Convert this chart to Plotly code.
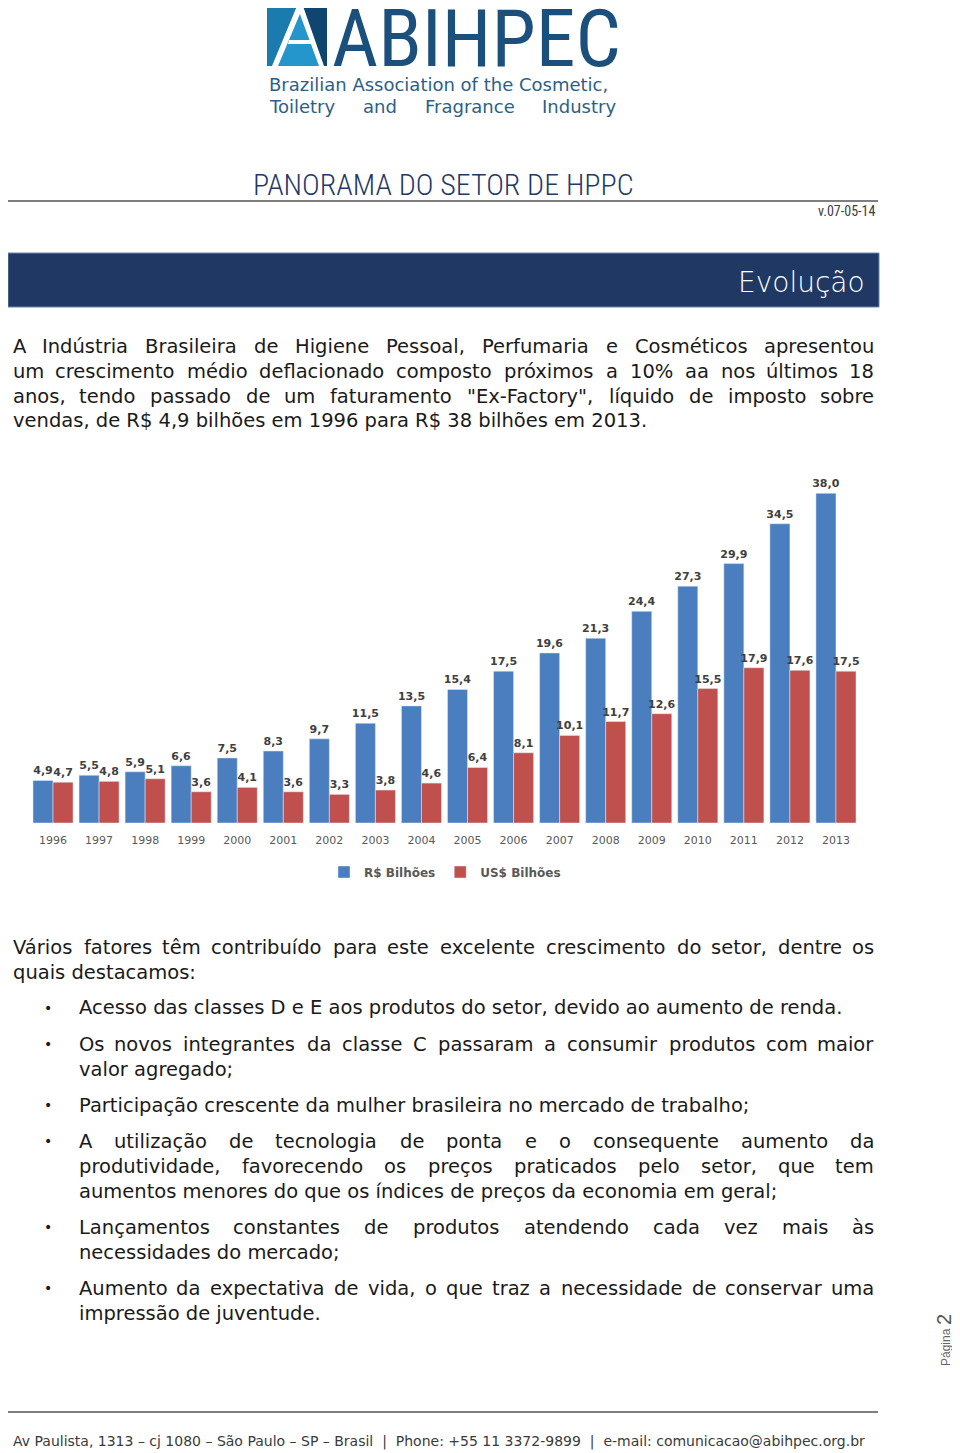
import unicodedata
import plotly.graph_objects as go

# page geometry: the html body has an 8px margin, so the figure is offset by 8px
OFF = 8
W, H = 960 - OFF, 1453 - OFF

years = ["1996", "1997", "1998", "1999", "2000", "2001", "2002", "2003", "2004",
         "2005", "2006", "2007", "2008", "2009", "2010", "2011", "2012", "2013"]
brl_bilhoes = [4.9, 5.5, 5.9, 6.6, 7.5, 8.3, 9.7, 11.5, 13.5,
               15.4, 17.5, 19.6, 21.3, 24.4, 27.3, 29.9, 34.5, 38.0]
usd_bilhoes = [4.7, 4.8, 5.1, 3.6, 4.1, 3.6, 3.3, 3.8, 4.6,
               6.4, 8.1, 10.1, 11.7, 12.6, 15.5, 17.9, 17.6, 17.5]
series_names = ["R$ Bilhões", "US$ Bilhões"]

intro_lines = [
    "A Indústria Brasileira de Higiene Pessoal, Perfumaria e Cosméticos apresentou",
    "um crescimento médio deflacionado composto próximos a 10% aa nos últimos 18",
    "anos, tendo passado de um faturamento \"Ex-Factory\", líquido de imposto sobre",
    "vendas, de R$ 4,9 bilhões em 1996 para R$ 38 bilhões em 2013.",
]
factors_lines = [
    "Vários fatores têm contribuído para este excelente crescimento do setor, dentre os",
    "quais destacamos:",
]
bullets = [
    ["Acesso das classes D e E aos produtos do setor, devido ao aumento de renda."],
    ["Os novos integrantes da classe C passaram a consumir produtos com maior",
     "valor agregado;"],
    ["Participação crescente da mulher brasileira no mercado de trabalho;"],
    ["A utilização de tecnologia de ponta e o consequente aumento da",
     "produtividade, favorecendo os preços praticados pelo setor, que tem",
     "aumentos menores do que os índices de preços da economia em geral;"],
    ["Lançamentos constantes de produtos atendendo cada vez mais às",
     "necessidades do mercado;"],
    ["Aumento da expectativa de vida, o que traz a necessidade de conservar uma",
     "impressão de juventude."],
]
logo_name = "ABIHPEC"
logo_sub = ["Brazilian Association of the Cosmetic,", "Toiletry and Fragrance Industry"]
doc_title = "PANORAMA DO SETOR DE HPPC"
doc_version = "v.07-05-14"
section_title = "Evolução"
page_label = "Página"
page_number = "2"
footer_text = ("Av Paulista, 1313 – cj 1080 – São Paulo – SP – Brasil  |  "
               "Phone: +55 11 3372-9899  |  e-mail: comunicacao@abihpec.org.br")

BLUE = "#4A7EBF"
RED = "#C0504D"
BODY_FONT = "DejaVu Sans"
BODY_SIZE = 19.5
TEXT_COLOR = "#1a1a1a"

# DejaVu Sans advance widths (units per em = 2048), used to justify lines
_DV = {" ": 651, "!": 821, "\"": 942, "$": 1303, "%": 1946, "'": 563, "(": 799,
       ")": 799, ",": 651, "-": 739, ".": 651, "/": 690, ":": 690, ";": 690,
       "@": 2048, "|": 690, "–": 1024,
       "A": 1401, "B": 1405, "C": 1430, "D": 1577, "E": 1294, "F": 1178,
       "G": 1587, "H": 1540, "I": 604, "J": 604, "K": 1343, "L": 1141,
       "M": 1767, "N": 1532, "O": 1612, "P": 1235, "Q": 1612, "R": 1423,
       "S": 1300, "T": 1251, "U": 1499, "V": 1401, "W": 2025, "X": 1403,
       "Y": 1251, "Z": 1403,
       "a": 1255, "b": 1300, "c": 1126, "d": 1300, "e": 1260, "f": 721,
       "g": 1300, "h": 1298, "i": 569, "j": 569, "k": 1186, "l": 569,
       "m": 1995, "n": 1298, "o": 1253, "p": 1300, "q": 1300, "r": 842,
       "s": 1067, "t": 803, "u": 1298, "v": 1212, "w": 1675, "x": 1212,
       "y": 1212, "z": 1075}
for _d in "0123456789":
    _DV[_d] = 1303


def text_width(s, size):
    total = 0
    for ch in s:
        base = unicodedata.normalize("NFD", ch)[0]
        total += _DV.get(ch, _DV.get(base, 1250))
    return total / 2048 * size


def X(x):
    return (x - OFF) / W


def Y(y):
    return 1 - (y - OFF) / H


fig = go.Figure()
for vals, name, color in ((brl_bilhoes, series_names[0], BLUE),
                          (usd_bilhoes, series_names[1], RED)):
    fig.add_trace(go.Bar(
        x=years, y=vals, name=name, marker_color=color,
        texttemplate="%{y:.1f}", textposition="outside", constraintext="none",
        textfont=dict(family="DejaVu Sans", size=11, color="#404040", weight="bold"),
        cliponaxis=False,
    ))

ann = []


def text(x, y, s, size, color=TEXT_COLOR, family=BODY_FONT, xanchor="left",
         weight="normal", angle=0, yanchor="middle"):
    ann.append(dict(x=X(x), y=Y(y), xref="paper", yref="paper", text=s,
                    showarrow=False, xanchor=xanchor, yanchor=yanchor,
                    textangle=angle, borderpad=0,
                    font=dict(family=family, size=size, color=color, weight=weight)))


def justified(line, x0, x1, y, size, color=TEXT_COLOR, family=BODY_FONT):
    words = line.split(" ")
    widths = [text_width(w, size) for w in words]
    gap = (x1 - x0 - sum(widths)) / (len(words) - 1)
    pos = x0
    for i, (w, wd) in enumerate(zip(words, widths)):
        if i == 0:
            text(x0, y, w, size, color, family, "left")
        elif i == len(words) - 1:
            text(x1, y, w, size, color, family, "right")
        else:
            text(pos + wd / 2, y, w, size, color, family, "center")
        pos += wd + gap


def paragraph(lines, x0, x1, y0, step=25):
    for i, line in enumerate(lines):
        y = y0 + step * i
        if i < len(lines) - 1:
            justified(line, x0, x1, y, BODY_SIZE)
        else:
            text(x0, y, line, BODY_SIZE)


# logo
text(331, 39, logo_name, 80, color="#1B4F7C",
     family="Roboto Condensed, Liberation Sans")
text(268, 84, logo_sub[0], 18, color="#2C5F88")
justified(logo_sub[1], 268, 617, 106, 18, color="#2C5F88")

# title
text(443, 185, doc_title, 30, color="#1F3A68",
     family="Roboto Condensed, Liberation Sans", xanchor="center", weight=300)
text(876, 211, doc_version, 14, color="#404040",
     family="Roboto Condensed, Liberation Sans", xanchor="right")

# banner title
text(866, 282, section_title, 28, color="#FFFFFF", family="DejaVu Sans",
     xanchor="right", weight=300)

# body text
paragraph(intro_lines, 12, 875, 346)
paragraph(factors_lines, 12, 875, 947)
bullet_y = [1008, 1044, 1105, 1141, 1227, 1288]
for by, lines in zip(bullet_y, bullets):
    text(48, by, "•", 14, xanchor="center")
    paragraph(lines, 78, 875, by)

# page number (rotated, reads bottom to top)
text(946, 1347, page_label, 12, color="#666666", family="Liberation Sans",
     xanchor="center", angle=-90)
text(944, 1320, page_number, 20, color="#555555", family="Liberation Sans",
     xanchor="center", angle=-90)

# footer
text(12, 1441, footer_text, 14, color="#3A3A3A")

shapes = []


def poly(points, color):
    d = "M " + " L ".join(f"{X(px):.5f},{Y(py):.5f}" for px, py in points) + " Z"
    shapes.append(dict(type="path", xref="paper", yref="paper", path=d,
                       fillcolor=color, line_width=0, layer="above"))


# logo icon
poly([(267, 6), (327, 6), (327, 66), (267, 66)], "#1B7AAE")
poly([(302, 6), (327, 6), (327, 66), (323, 66)], "#0E4670")
poly([(300, 8), (321, 66), (276, 66)], "#2496CB")
poly([(272, 66), (278, 66), (302, 9), (297, 6)], "#FFFFFF")
poly([(297, 6), (303, 6), (324, 66), (319, 66)], "#FFFFFF")
poly([(289, 40), (312, 40), (313, 44), (288, 44)], "#FFFFFF")

# title underline
shapes.append(dict(type="line", xref="paper", yref="paper", x0=X(8), x1=X(878),
                   y0=Y(201), y1=Y(201), line=dict(color="#7F7F7F", width=2)))
# banner
shapes.append(dict(type="rect", xref="paper", yref="paper", x0=X(8), x1=X(879),
                   y0=Y(307), y1=Y(253), fillcolor="#1F3864",
                   line=dict(color="#6F86A8", width=1), layer="below"))
# footer line
shapes.append(dict(type="line", xref="paper", yref="paper", x0=X(8), x1=X(878),
                   y0=Y(1412), y1=Y(1412), line=dict(color="#7F7F7F", width=2)))

fig.update_layout(
    width=W, height=H,
    margin=dict(l=0, r=0, t=0, b=0),
    paper_bgcolor="white", plot_bgcolor="white",
    separators=",.",
    barmode="group", bargap=0.13, bargroupgap=0,
    showlegend=True,
    legend=dict(orientation="h", x=X(324), xanchor="left", y=Y(872),
                yanchor="middle", itemwidth=30,
                font=dict(family="DejaVu Sans", size=12, color="#595959",
                          weight="bold"),
                bgcolor="rgba(0,0,0,0)"),
    xaxis=dict(domain=[X(30), X(859)], range=[-0.5, 17.5], showgrid=False,
               showline=False, ticks="", zeroline=False, ticklabelstandoff=9,
               tickfont=dict(family="DejaVu Sans", size=11, color="#595959")),
    yaxis=dict(domain=[Y(823), Y(476)], range=[0, 40], visible=False),
    annotations=ann,
    shapes=shapes,
)

fig.write_html("out.html")
